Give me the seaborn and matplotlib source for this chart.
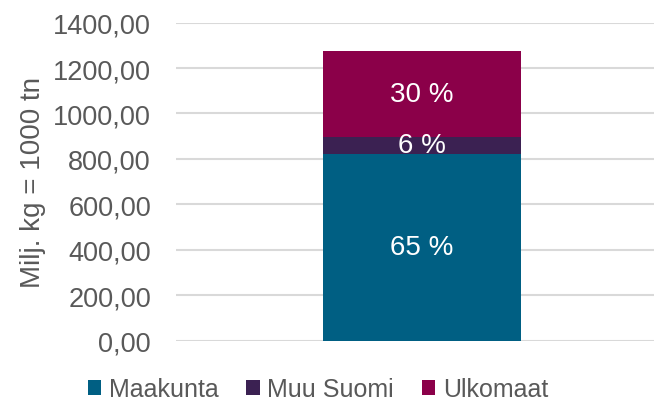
import matplotlib
matplotlib.use("Agg")
import matplotlib.pyplot as plt
import seaborn as sb
from matplotlib.patches import Patch

# data (milj. kg)
series = ["Maakunta", "Muu Suomi", "Ulkomaat"]
values = [822, 76, 378]
pct_labels = ["65 %", "6 %", "30 %"]
colors = ["#005F83", "#3B2152", "#8B0049"]
yticks = [0, 200, 400, 600, 800, 1000, 1200, 1400]

sb.set_style("white")
plt.rcParams["font.family"] = ["Liberation Sans", "DejaVu Sans"]
grey = "#595959"

fig = plt.figure(figsize=(6.54, 4.06), dpi=100)
ax = fig.add_axes([0.269, 0.158, 0.731, 0.784])

bottom = 0
for name, val, col in zip(series, values, colors):
    sb.barplot(x=[""], y=[val], bottom=bottom, color=col, width=0.8,
               saturation=1, linewidth=0, ax=ax, zorder=2)
    bottom += val

for cont, lab in zip(ax.containers, pct_labels):
    ax.bar_label(cont, labels=[lab], label_type="center", color="white", fontsize=20)

ax.set_ylim(0, 1400)
ax.set_xlim(-0.995, 0.937)
ax.set_yticks(yticks)
ax.set_yticklabels([f"{t:.2f}".replace(".", ",") for t in yticks])
ax.tick_params(axis="y", length=0, pad=18, labelsize=19.5, labelcolor=grey)
ax.set_xticks([])
ax.set_xlabel("")
ax.set_ylabel("Milj. kg = 1000 tn", fontsize=20, color=grey, labelpad=5)
ax.yaxis.grid(True, color="#D9D9D9", linewidth=1.5, zorder=0)
ax.set_axisbelow(True)
for s in ax.spines.values():
    s.set_visible(False)

handles = [Patch(facecolor=c, edgecolor="none") for c in colors]
fig.legend(handles, series, loc="center", bbox_to_anchor=(0.486, 0.039),
           ncol=3, frameon=False, fontsize=18, labelcolor=grey,
           handlelength=0.55, handleheight=0.55, handletextpad=0.3,
           columnspacing=1.1, borderpad=0)

fig.savefig("out.png", dpi=100)
